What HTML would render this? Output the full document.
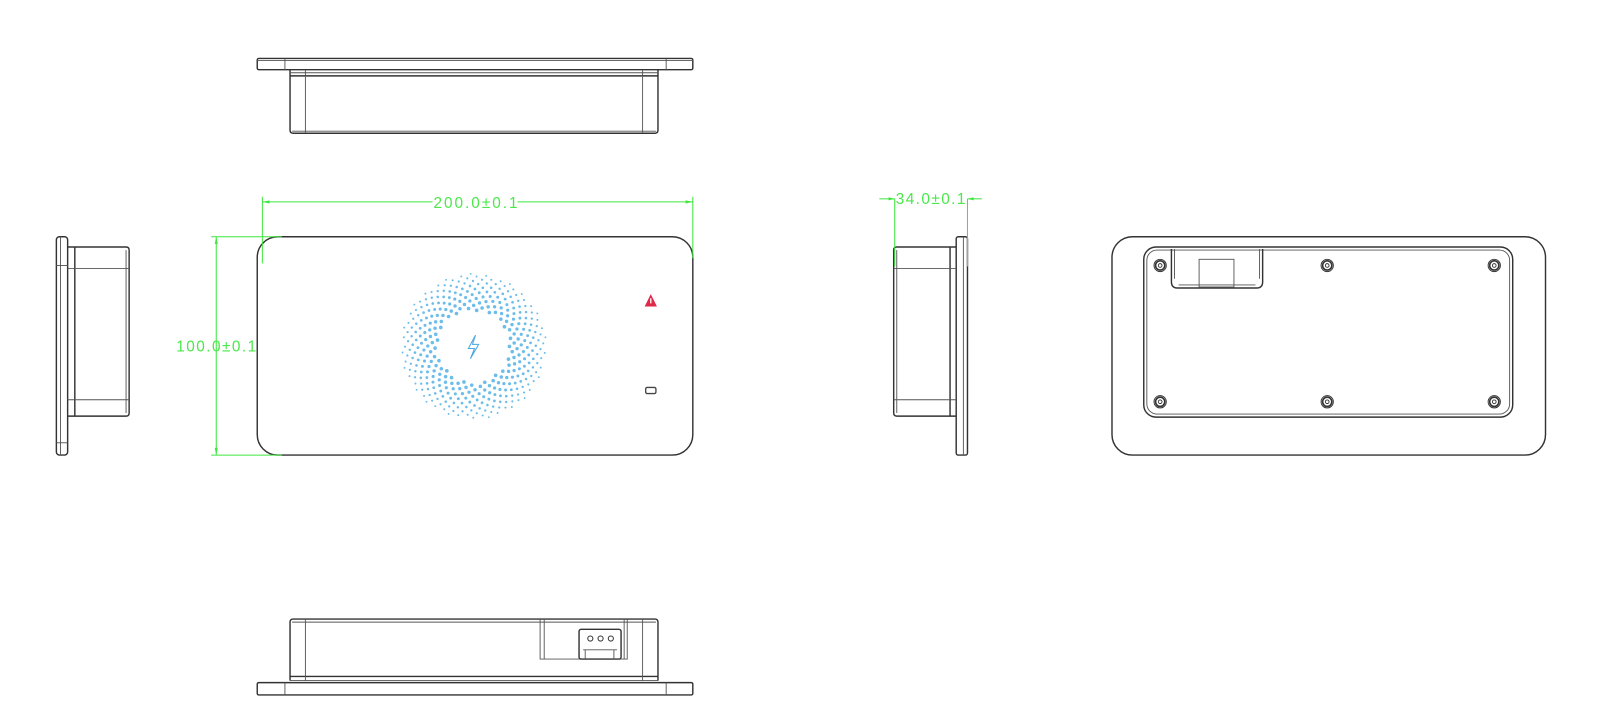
<!DOCTYPE html>
<html><head><meta charset="utf-8"><style>
html,body{margin:0;padding:0;background:#fff;}
svg{display:block}
.l{fill:none;stroke:#333;stroke-width:1.4}
.t{fill:none;stroke:#555;stroke-width:0.9}
.g{fill:none;stroke:#3ee63e;stroke-width:1}
.gt{fill:#4be84b;font-family:"Liberation Sans",sans-serif;font-size:15px}
</style></head><body>
<svg width="1607" height="719" viewBox="0 0 1568 701.5" preserveAspectRatio="none" xmlns="http://www.w3.org/2000/svg">
<!-- top view -->
<g>
<rect class="l" x="251" y="57" width="425" height="11" rx="1.5"/>
<line class="t" x1="251" y1="59" x2="676" y2="59"/>
<line class="t" x1="278" y1="57" x2="278" y2="68"/>
<line class="t" x1="650" y1="57" x2="650" y2="68"/>
<path class="l" d="M283 68 V127 Q283 130 286 130 H639 Q642 130 642 127 V68"/>
<line class="l" x1="283" y1="74" x2="642" y2="74"/>
<line class="t" x1="283" y1="71" x2="642" y2="71"/>
<line class="t" x1="298" y1="68" x2="298" y2="130"/>
<line class="t" x1="627" y1="68" x2="627" y2="130"/>
<line class="t" x1="285" y1="128" x2="640" y2="128"/>
</g>
<!-- bottom view -->
<g>
<path class="l" d="M283 664 V607 Q283 604 286 604 H639 Q642 604 642 607 V664"/>
<line class="t" x1="285" y1="607" x2="640" y2="607"/>
<line class="l" x1="283" y1="660" x2="642" y2="660"/>
<line class="t" x1="283" y1="664" x2="642" y2="664"/>
<line class="t" x1="298" y1="604" x2="298" y2="664"/>
<line class="t" x1="627" y1="604" x2="627" y2="664"/>
<rect class="l" x="251" y="666" width="425" height="12" rx="1.5"/>
<line class="t" x1="278" y1="666" x2="278" y2="678"/>
<line class="t" x1="650" y1="666" x2="650" y2="678"/>
<path class="t" d="M527 604 V643 H612 V604"/>
<line class="t" x1="531" y1="604" x2="531" y2="643"/>
<line class="t" x1="609" y1="604" x2="609" y2="643"/>
<rect class="l" x="565" y="614" width="41" height="29" rx="2"/>
<circle cx="576" cy="623" r="2.5" fill="none" stroke="#333"/>
<circle cx="586" cy="623" r="2.5" fill="none" stroke="#333"/>
<circle cx="596" cy="623" r="2.5" fill="none" stroke="#333"/>
<line class="t" x1="569" y1="634" x2="602" y2="634"/>
<line class="t" x1="571" y1="634" x2="571" y2="643"/>
<line class="t" x1="599" y1="634" x2="599" y2="643"/>
</g>
<!-- left side view -->
<g>
<rect class="l" x="55" y="231" width="11" height="213" rx="3"/>
<line class="t" x1="59" y1="231" x2="59" y2="444"/>
<line class="t" x1="55" y1="259" x2="66" y2="259"/>
<line class="t" x1="55" y1="432" x2="66" y2="432"/>
<path class="l" d="M66 241 H123 Q126 241 126 244 V403 Q126 406 123 406 H66"/>
<line class="l" x1="73" y1="241" x2="73" y2="406"/>
<line class="t" x1="66" y1="262" x2="126" y2="262"/>
<line class="t" x1="66" y1="390" x2="126" y2="390"/>
<line class="t" x1="123" y1="244" x2="123" y2="403"/>
</g>
<!-- right side view -->
<g>
<rect class="l" x="933" y="231" width="11" height="213" rx="2"/>
<line class="t" x1="940" y1="231" x2="940" y2="444"/>
<path class="l" d="M933 241 H875 Q872 241 872 244 V403 Q872 406 875 406 H933"/>
<line class="l" x1="927" y1="241" x2="927" y2="406"/>
<line class="t" x1="872" y1="262" x2="933" y2="262"/>
<line class="t" x1="872" y1="390" x2="933" y2="390"/>
<line class="t" x1="875" y1="244" x2="875" y2="403"/>
<line class="g" x1="873" y1="194" x2="873" y2="260"/>
<line class="g" x1="944" y1="194" x2="944" y2="260"/>
<line class="g" x1="858" y1="194" x2="873" y2="194"/>
<line class="g" x1="944" y1="194" x2="958" y2="194"/>
<path d="M873 194 l-6 -1.5 v3z M944 194 l6 -1.5 v3z" fill="#3ee63e"/>
<text class="gt" x="874" y="199" textLength="68">34.0±0.1</text>
</g>
<!-- front view -->
<g>
<rect class="l" x="251" y="231" width="425" height="213" rx="20" stroke-width="1.6"/>
<line class="g" x1="256" y1="197" x2="422" y2="197"/>
<line class="g" x1="505" y1="197" x2="676" y2="197"/>
<line class="g" x1="256" y1="192" x2="256" y2="257"/>
<line class="g" x1="676" y1="192" x2="676" y2="252"/>
<path d="M256 197 l7 -1.5 v3z M676 197 l-7 -1.5 v3z" fill="#3ee63e"/>
<text class="gt" x="423" y="203" textLength="82">200.0±0.1</text>
<line class="g" x1="211" y1="231" x2="211" y2="444"/>
<line class="g" x1="206" y1="231" x2="275" y2="231"/>
<line class="g" x1="206" y1="444" x2="275" y2="444"/>
<path d="M211 231 l-1.5 7 h3z M211 444 l-1.5 -7 h3z" fill="#3ee63e"/>
<text class="gt" x="172" y="343" textLength="78">100.0±0.1</text>
<g id="dots" fill="#6cbde9"></g>
<path d="M464 327 L457 340 H463 L459 350 L467 336 H461 Z" fill="none" stroke="#4aa8e0" stroke-width="1"/>
<path d="M635 287 L641 299 H629 Z" fill="#e0284a"/>
<path d="M635 291 V296" stroke="#fff" stroke-width="1.3"/>
<rect x="630" y="378" width="10" height="6" rx="1.5" fill="none" stroke="#444" stroke-width="1.3"/>
</g>
<!-- back view -->
<g>
<rect class="l" x="1085" y="231" width="423" height="213" rx="20" stroke-width="1.6"/>
<rect class="l" x="1116" y="241" width="360" height="166" rx="12"/>
<rect class="t" x="1119" y="244" width="354" height="160" rx="10"/>
<path class="l" d="M1143 243 V275 Q1143 281 1149 281 H1226 Q1232 281 1232 275 V243"/>
<path class="t" d="M1146 243 V272 M1229 243 V272 M1150 278 H1225"/>
<rect class="t" x="1170" y="253" width="34" height="27"/>
<g fill="none" stroke="#333">
<g id="screws"></g>
</g>
</g>
</svg>
<script>
(function(){
var ns="http://www.w3.org/2000/svg";
var g=document.getElementById('dots');
var cx=462,cy=338,n=360,ga=Math.PI*(3-Math.sqrt(5));
for(var i=0;i<n;i++){
 var f=(i+0.5)/n;
 var r=Math.sqrt(35*35+f*(71*71-35*35));
 var a=i*ga;
 var c=document.createElementNS(ns,'circle');
 c.setAttribute('cx',(cx+r*Math.cos(a)).toFixed(1));
 c.setAttribute('cy',(cy+r*Math.sin(a)).toFixed(1));
 c.setAttribute('r',(1.8-0.9*f).toFixed(2));
 g.appendChild(c);
}
var s=document.getElementById('screws');
[[1132,259],[1295,259],[1458,259],[1132,392],[1295,392],[1458,392]].forEach(function(p){
 [6,4.5,1.8].forEach(function(r,k){
  var c=document.createElementNS(ns,'circle');
  c.setAttribute('cx',p[0]);c.setAttribute('cy',p[1]);c.setAttribute('r',r);
  c.setAttribute('stroke-width',k==1?1.6:0.9);
  s.appendChild(c);
 });
});
})();
</script>
</body></html>
